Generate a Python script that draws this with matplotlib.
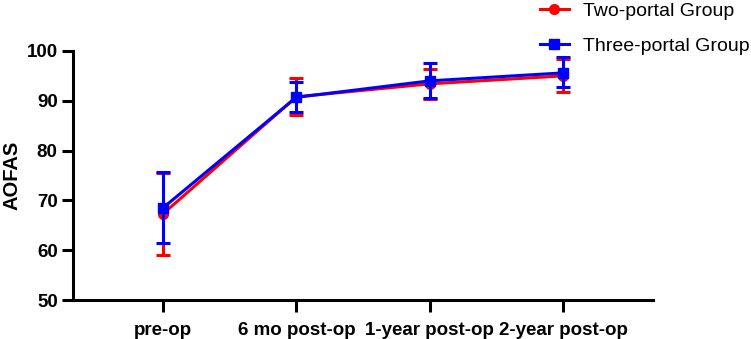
import matplotlib
matplotlib.use('Agg')
import matplotlib.pyplot as plt
import numpy as np

plt.rcParams['font.family'] = ['Liberation Sans', 'DejaVu Sans']

# time points
etapy = ['pre-op', '6 mo post-op', '1-year post-op', '2-year post-op']

# Two-portal group: mean, lower and upper whisker
dwa_srednia = [67.3, 90.8, 93.4, 95.0]
dwa_dol = [59.1, 87.1, 90.4, 91.7]
dwa_gora = [75.5, 94.6, 96.3, 98.3]

# Three-portal group
trzy_srednia = [68.5, 90.7, 94.0, 95.6]
trzy_dol = [61.4, 87.7, 90.6, 92.7]
trzy_gora = [75.7, 93.8, 97.5, 98.7]

x = np.arange(len(etapy))

fig = plt.figure(figsize=(7.51, 3.39), dpi=100)
ax = fig.add_axes([0.0972, 0.115, 0.7723, 0.7346])

def seria(srednia, dol, gora, kolor, znak, etykieta, z):
    srednia = np.array(srednia)
    blad = [srednia - np.array(dol), np.array(gora) - srednia]
    ax.errorbar(x, srednia, yerr=blad, color=kolor, marker=znak,
                markersize=7, linewidth=2.2, elinewidth=2.2, capsize=5,
                capthick=2.2, label=etykieta, zorder=z)

seria(dwa_srednia, dwa_dol, dwa_gora, '#ff0000', 'o', 'Two-portal Group', 3)
seria(trzy_srednia, trzy_dol, trzy_gora, '#0000ff', 's', 'Three-portal Group', 4)

ax.set_xlim(-0.675, 3.675)
ax.set_ylim(50, 100)
ax.set_yticks([50, 60, 70, 80, 90, 100])
ax.set_xticks(x)
ax.set_xticklabels(etapy, fontsize=13.5, fontweight='bold')
for t in ax.get_yticklabels():
    t.set_fontsize(13.5)
    t.set_fontweight('bold')
ax.set_ylabel('AOFAS', fontsize=14.5, fontweight='bold', labelpad=4)

for s in ['top', 'right']:
    ax.spines[s].set_visible(False)
for s in ['left', 'bottom']:
    ax.spines[s].set_linewidth(2.2)
ax.tick_params(axis='x', width=2.2, length=8.5, pad=7)
ax.tick_params(axis='y', width=2.2, length=8, pad=3)

uchwyty, napisy = ax.get_legend_handles_labels()
uchwyty = [u[0] for u in uchwyty]
fig.legend(uchwyty, napisy, loc='upper left', bbox_to_anchor=(0.703, 1.027),
           frameon=False, fontsize=14, handlelength=1.5, labelspacing=0.9,
           borderpad=0.1, handletextpad=0.75)

fig.savefig('out.png', dpi=100)
